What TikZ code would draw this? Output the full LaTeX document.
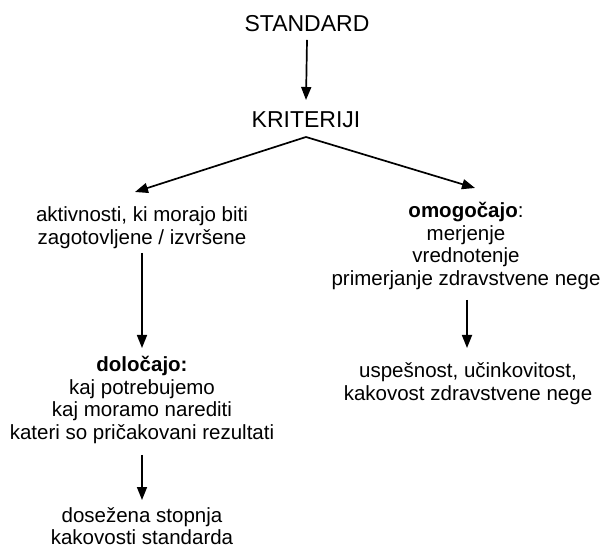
\documentclass[tikz,border=0pt]{standalone}
\usepackage{fontspec}
\setmainfont{Liberation Sans}
\usetikzlibrary{arrows.meta}
\newcommand{\lines}[1]{\begin{tabular}[t]{@{}c@{}}#1\end{tabular}}
\begin{document}
\begin{tikzpicture}[x=1pt,y=1pt,
  txt/.style={inner sep=0pt,anchor=base,font=\fontsize{20.5}{22.5}\selectfont},
  big/.style={inner sep=0pt,anchor=base,font=\fontsize{23}{24}\selectfont},
  arr/.style={line width=1.7pt,-{Triangle[length=13pt,width=10pt]}}]
\useasboundingbox (0,0) rectangle (601,548);
\node[big] (std) at (307,516) {STANDARD};
\node[big] (krit) at (306,420) {KRITERIJI};
\node[txt] (act) at (142,326) {\lines{aktivnosti, ki morajo biti\\zagotovljene / izvršene}};
\node[txt] (dol) at (142,176) {\lines{\textbf{določajo:}\\kaj potrebujemo\\kaj moramo narediti\\kateri so pričakovani rezultati}};
\node[txt] (dos) at (142,26) {\lines{dosežena stopnja\\kakovosti standarda}};
\node[txt] (omo) at (466,330) {\lines{\textbf{omogočajo}:\\merjenje\\vrednotenje\\primerjanje zdravstvene nege}};
\node[txt] (usp) at (468,170) {\lines{uspešnost, učinkovitost,\\kakovost zdravstvene nege}};
\coordinate (apex) at ([yshift=-9pt]krit.base);
\draw[arr] ([yshift=-8pt]std.base) -- ([yshift=28pt]krit.base);
\draw[arr] (apex) -- ([xshift=-7pt,yshift=30pt]act.base);
\draw[arr] (apex) -- ([xshift=9pt,yshift=30pt]omo.base);
\draw[arr] ([yshift=-31pt]act.base) -- ([yshift=24pt]dol.base);
\draw[arr] ([yshift=-83pt]dol.base) -- ([yshift=22pt]dos.base);
\draw[arr] ([xshift=1pt,yshift=-82pt]omo.base) -- ([xshift=-1pt,yshift=30pt]usp.base);
\end{tikzpicture}
\end{document}
